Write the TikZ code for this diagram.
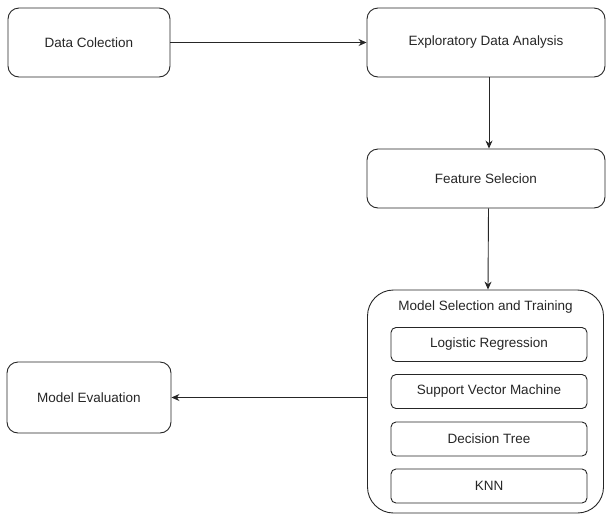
\documentclass[tikz,border=0pt]{standalone}
\usepackage{fontspec}
\setmainfont{Liberation Sans}
\usetikzlibrary{arrows.meta}
\begin{document}
\begin{tikzpicture}[x=1pt,y=-1pt,
  box/.style={draw=black!85, line width=0.9pt, rounded corners=11pt, align=center, inner sep=0pt, font=\fontsize{13.5}{15}\selectfont, text=black!85},
  inbox/.style={draw=black!85, line width=0.9pt, rounded corners=5pt, minimum width=196pt, minimum height=34pt, inner sep=0pt, font=\fontsize{13.5}{15}\selectfont, text=black!85},
  arr/.style={draw=black!85, line width=0.9pt, -{Stealth[length=8pt,width=7pt]}}]
\useasboundingbox (0,0) rectangle (606,515);
\node[box, minimum width=162pt, minimum height=69pt] (DC) at (89,42.5) {Data Colection};
\node[box, minimum width=238pt, minimum height=69pt] (EDA) at (486,42.5) {Exploratory Data Analysis};
\node[box, minimum width=238pt, minimum height=59pt] (FS) at (486,178.5) {Feature Selecion};
\node[box, rounded corners=26pt, minimum width=236pt, minimum height=223pt] (MS) at (485.5,401.5) {};
\node[font=\fontsize{13.5}{15}\selectfont, text=black!85, inner sep=0pt] (MST) at (485.5,307) {Model Selection and Training};
\node[inbox] (LR) at (489,344.5) {Logistic Regression};
\node[inbox] (SVM) at (489,391.5) {Support Vector Machine};
\node[inbox] (DT) at (489,439) {Decision Tree};
\node[inbox] (KNN) at (489,486) {KNN};
\node[box, minimum width=164pt, minimum height=71pt] (ME) at (89,397.5) {Model Evaluation};
\draw[arr] (DC.east) -- (EDA.west);
\draw[arr] ([xshift=3pt]EDA.south) -- ([xshift=3pt]FS.north);
\draw[arr] ([xshift=2.5pt]FS.south) -- ([xshift=2.5pt]MS.north);
\draw[arr] (MS.west |- ME.east) -- (ME.east);
\end{tikzpicture}
\end{document}
